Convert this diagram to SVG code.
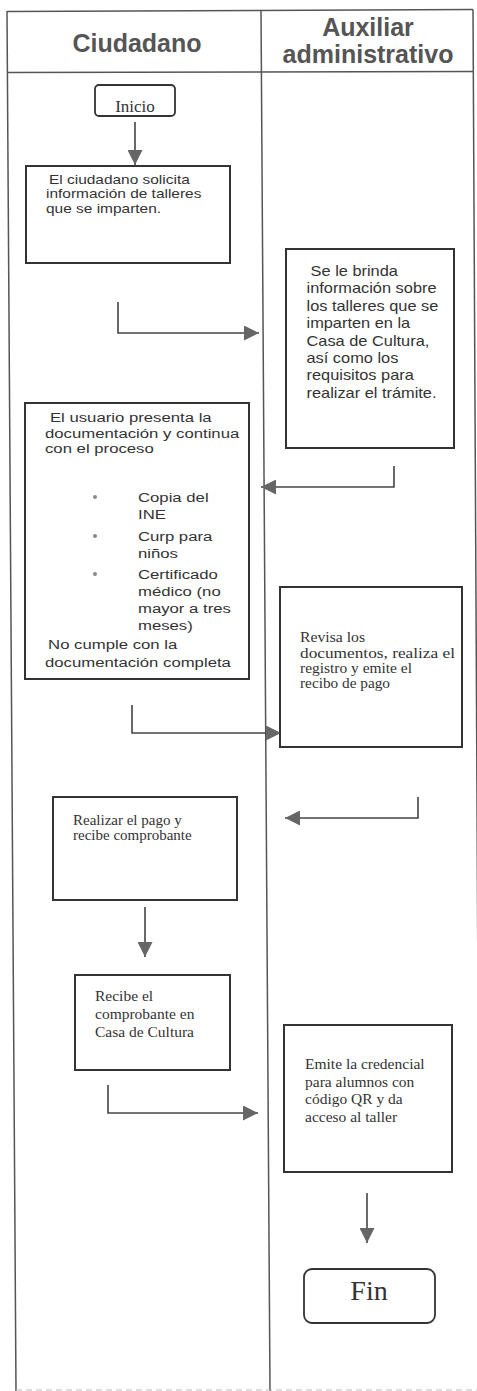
<svg xmlns="http://www.w3.org/2000/svg" width="477" height="1391" viewBox="0 0 477 1391">
<style>
.lane{fill:none;stroke:#555;stroke-width:1.5}
.box{fill:#fff;stroke:#333;stroke-width:2}
.term{fill:#fff;stroke:#333;stroke-width:1.8}
.hdr{font-family:"Liberation Sans",Arial,sans-serif;font-weight:bold;font-size:25px;fill:#555;text-anchor:middle}
.sans{font-family:"Liberation Sans",Arial,sans-serif;fill:#333}
.serif{font-family:"Liberation Serif","Times New Roman",serif;fill:#333}
.conn{fill:none;stroke:#444;stroke-width:1.6}
.dot{fill:#888}
</style>
<defs>
<marker id="ah" viewBox="0 0 15 15" refX="15" refY="7.5" markerWidth="15" markerHeight="15" markerUnits="userSpaceOnUse" orient="auto">
<path d="M0,0 L15,7.5 L0,15 z" fill="#666"/>
</marker>
</defs>
<rect width="477" height="1391" fill="#fff"/>
<g id="lanes">
<path class="lane" d="M7,11.5 L473,9.5"/>
<path class="lane" d="M7,72.5 L473,71.5"/>
<path class="lane" d="M7,11 L16,1391"/>
<path class="lane" d="M261,10.5 L270,1391"/>
<path class="lane" d="M473,9.5 L480,1391"/>
<path d="M16,1390 L477,1390" stroke="#bbb" stroke-width="1" stroke-dasharray="6 4"/>
<text class="hdr" x="137" y="52">Ciudadano</text>
<text class="hdr" x="368" y="36">Auxiliar</text>
<text class="hdr" x="368" y="63">administrativo</text>
</g>
<g id="connectors">
<path class="conn" d="M135,122 V165" marker-end="url(#ah)"/>
<path class="conn" d="M118,302 V333 H259" marker-end="url(#ah)"/>
<path class="conn" d="M394,466 V487 H261" marker-end="url(#ah)"/>
<path class="conn" d="M132,705 V733 H281" marker-end="url(#ah)"/>
<path class="conn" d="M418,797 V818 H285" marker-end="url(#ah)"/>
<path class="conn" d="M145,907 V957" marker-end="url(#ah)"/>
<path class="conn" d="M108,1085 V1113 H258" marker-end="url(#ah)"/>
<path class="conn" d="M367,1193 V1243" marker-end="url(#ah)"/>
</g>
<g id="inicio">
<rect class="term" x="95" y="85" width="80" height="31" rx="4"/>
<text class="serif" x="135" y="112" font-size="17" text-anchor="middle">Inicio</text>
</g>
<g id="solicita">
<rect class="box" x="26" y="166" width="204" height="97"/>
<text class="sans" font-size="13" transform="translate(46,184) scale(1.19,1)"><tspan x="2.5" y="0">El ciudadano solicita</tspan><tspan x="0" y="14.5">información de talleres</tspan><tspan x="0" y="29">que se imparten.</tspan></text>
</g>
<g id="brinda">
<rect class="box" x="286" y="249" width="168" height="199"/>
<text class="sans" font-size="14" transform="translate(306.5,276) scale(1.17,1)"><tspan x="3.5" y="0">Se le brinda</tspan><tspan x="0" y="17.4">información sobre</tspan><tspan x="0" y="34.8">los talleres que se</tspan><tspan x="0" y="52.2">imparten en la</tspan><tspan x="0" y="69.6">Casa de Cultura,</tspan><tspan x="0" y="87">así como los</tspan><tspan x="0" y="104.4">requisitos para</tspan><tspan x="0" y="121.8">realizar el trámite.</tspan></text>
</g>
<g id="presenta">
<rect class="box" x="25" y="403" width="224" height="276"/>
<text class="sans" font-size="13.5" transform="translate(45,422) scale(1.24,1)"><tspan x="4" y="0">El usuario presenta la</tspan><tspan x="0" y="16">documentación y continua</tspan><tspan x="0" y="31">con el proceso</tspan><tspan x="75" y="80">Copia del</tspan><tspan x="75" y="97">INE</tspan><tspan x="75" y="119">Curp para</tspan><tspan x="75" y="136">niños</tspan><tspan x="75" y="157">Certificado</tspan><tspan x="75" y="174">médico (no</tspan><tspan x="75" y="191">mayor a tres</tspan><tspan x="75" y="208">meses)</tspan><tspan x="2.5" y="227">No cumple con la</tspan><tspan x="0" y="245">documentación completa</tspan></text>
<circle class="dot" cx="95" cy="497" r="2"/>
<circle class="dot" cx="95" cy="536" r="2"/>
<circle class="dot" cx="95" cy="574" r="2"/>
</g>
<g id="revisa">
<rect class="box" x="280" y="587" width="182" height="160"/>
<text class="serif" font-size="14.5"><tspan x="300" y="642" textLength="65" lengthAdjust="spacingAndGlyphs">Revisa los</tspan><tspan x="300" y="658" textLength="155" lengthAdjust="spacingAndGlyphs">documentos, realiza el</tspan><tspan x="300" y="673" textLength="112" lengthAdjust="spacingAndGlyphs">registro y emite el</tspan><tspan x="300" y="688" textLength="90" lengthAdjust="spacingAndGlyphs">recibo de pago</tspan></text>
</g>
<g id="pago">
<rect class="box" x="53" y="797" width="184" height="103"/>
<text class="serif" font-size="15"><tspan x="73" y="825">Realizar el pago y</tspan><tspan x="73" y="840">recibe comprobante</tspan></text>
</g>
<g id="recibe">
<rect class="box" x="75" y="975" width="155" height="95"/>
<text class="serif" font-size="15.5"><tspan x="95" y="1001">Recibe el</tspan><tspan x="95" y="1019">comprobante en</tspan><tspan x="95" y="1037">Casa de Cultura</tspan></text>
</g>
<g id="emite">
<rect class="box" x="284" y="1025" width="168" height="147"/>
<text class="serif" font-size="15.5"><tspan x="305" y="1069">Emite la credencial</tspan><tspan x="305" y="1087">para alumnos con</tspan><tspan x="305" y="1104">código QR y da</tspan><tspan x="305" y="1122">acceso al taller</tspan></text>
</g>
<g id="fin">
<rect class="term" x="304" y="1269" width="131" height="54" rx="8"/>
<text class="serif" x="369" y="1300" font-size="28" text-anchor="middle">Fin</text>
</g>
</svg>
